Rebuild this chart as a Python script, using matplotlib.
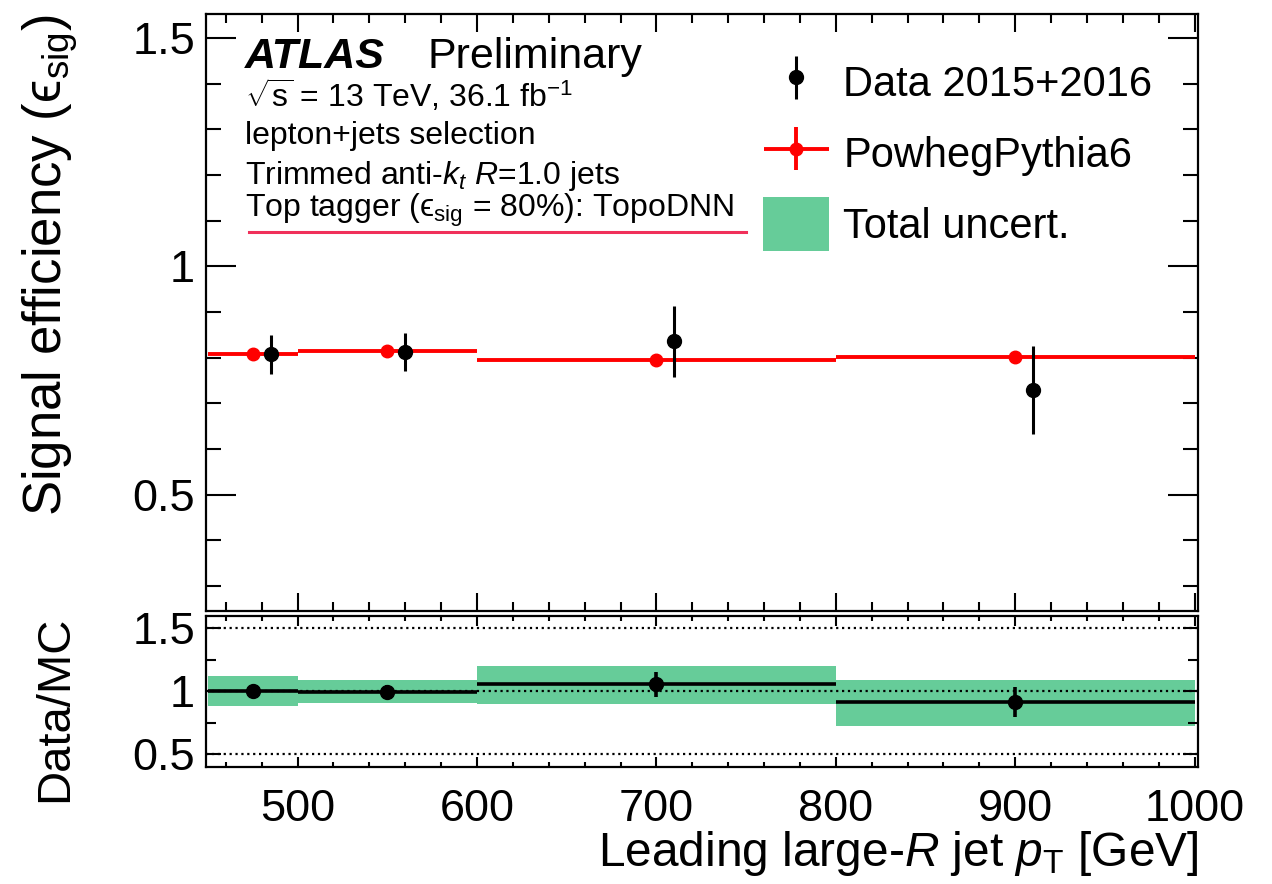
import matplotlib
matplotlib.use("Agg")
import matplotlib.pyplot as plt
import matplotlib.patches as mpatches
from matplotlib.legend_handler import HandlerErrorbar, HandlerPatch
from matplotlib.ticker import MultipleLocator, FuncFormatter
import numpy as np

plt.rcParams["font.family"] = ["Liberation Sans", "DejaVu Sans"]
plt.rcParams["mathtext.fontset"] = "custom"
plt.rcParams["mathtext.rm"] = "Liberation Sans"
plt.rcParams["mathtext.it"] = "Liberation Sans:italic"
plt.rcParams["mathtext.bf"] = "Liberation Sans:bold"

# binning in leading large-R jet pT [GeV]
bin_edges = [450, 500, 600, 800, 1000]
mc_eff = [0.809, 0.815, 0.796, 0.802]
data_eff = [0.807, 0.812, 0.836, 0.729]
data_err = [0.043, 0.041, 0.078, 0.096]
data_shift = 10  # data drawn a bit right of the bin centre
ratio = [0.998, 0.996, 1.055, 0.912]
ratio_err = [0.053, 0.05, 0.10, 0.12]
band_lo = [0.883, 0.908, 0.897, 0.725]
band_hi = [1.118, 1.089, 1.198, 1.087]
ref_lines = [0.5, 1.0, 1.5]

GREEN = "#66cc99"
TICK_FS = 32.5

edges = np.array(bin_edges, dtype=float)
centers = 0.5 * (edges[1:] + edges[:-1])
halfw = 0.5 * (edges[1:] - edges[:-1])


def big_box(legend, orig_handle, xdescent, ydescent, width, height, fontsize):
    # legend box a bit taller than the row, like the ROOT one
    h = height * 1.2
    return mpatches.Rectangle((-xdescent, -ydescent + (height - h) / 2), width, h)


fig = plt.figure(figsize=(12.72, 8.84), dpi=100)
ax = fig.add_axes([0.162, 0.3088, 0.780, 0.6754])
ax2 = fig.add_axes([0.162, 0.1327, 0.780, 0.1708])

# --- main panel
mc_h = ax.errorbar(centers, mc_eff, xerr=halfw, yerr=np.zeros(len(mc_eff)),
                   fmt="o", color="red", ms=9, elinewidth=2.8, capsize=0, zorder=3)
data_h = ax.errorbar(centers + data_shift, data_eff, yerr=data_err,
                     fmt="o", color="black", ms=10, elinewidth=2.2, capsize=0, zorder=4)
band_h = mpatches.Patch(facecolor=GREEN, edgecolor="none")

ax.set_xlim(449, 1002)
ax.set_ylim(0.245, 1.553)
ax.yaxis.set_major_locator(MultipleLocator(0.5))
ax.yaxis.set_minor_locator(MultipleLocator(0.1))
ax.xaxis.set_major_locator(MultipleLocator(100))
ax.xaxis.set_minor_locator(MultipleLocator(20))
ax.yaxis.set_major_formatter(FuncFormatter(lambda v, p: f"{v:g}"))
ax.tick_params(axis="both", which="both", direction="in", top=True, right=True, width=1.5)
ax.tick_params(axis="x", which="major", length=13, labelbottom=False)
ax.tick_params(axis="x", which="minor", length=6.5)
ax.tick_params(axis="y", which="major", length=21.6, labelsize=TICK_FS, pad=8)
ax.tick_params(axis="y", which="minor", length=10.8)
ax.set_ylabel("Signal efficiency (\u03f5$_{\\mathrm{sig}}$)", fontsize=38, loc="top")
ax.yaxis.set_label_coords(-0.127, 1.0)

tr = ax.transAxes
ax.text(0.039, 0.909, "ATLAS", fontsize=31, fontweight="bold", fontstyle="italic",
        transform=tr, va="baseline")
ax.text(0.223, 0.909, "Preliminary", fontsize=31, transform=tr, va="baseline")
ax.text(0.039, 0.844, r"$\sqrt{\mathrm{s}}$ = 13 TeV, 36.1 fb$^{\mathrm{-1}}$", fontsize=23,
        transform=tr, va="baseline")
ax.text(0.039, 0.782, "lepton+jets selection", fontsize=23, transform=tr, va="baseline")
ax.text(0.039, 0.716, r"Trimmed anti-$k_{t}$ $R$=1.0 jets", fontsize=23, transform=tr, va="baseline")
ax.text(0.039, 0.660, "Top tagger (\u03f5$_{\\mathrm{sig}}$ = 80%): TopoDNN", fontsize=23,
        transform=tr, va="baseline")
ax.plot([0.043, 0.544], [0.635, 0.635], transform=tr, color="#f0305a", lw=2.2)

ax.legend([data_h, mc_h, band_h], ["Data 2015+2016", "PowhegPythia6", "Total uncert."],
          handler_map={data_h: HandlerErrorbar(xerr_size=0.5, yerr_size=0.52),
                       mc_h: HandlerErrorbar(xerr_size=0.78, yerr_size=0.52),
                       band_h: HandlerPatch(patch_func=big_box)},
          loc="upper left", bbox_to_anchor=(0.5615, 0.924), frameon=False,
          fontsize=30, handlelength=1.58, handleheight=1.27, handletextpad=0.34,
          labelspacing=0.62, borderpad=0, borderaxespad=0)

# --- ratio panel
ax2.bar(centers, np.array(band_hi) - np.array(band_lo), bottom=band_lo, width=2 * halfw,
        color=GREEN, edgecolor="none", zorder=1)
for r in ref_lines:
    ax2.axhline(r, color="black", ls=":", lw=1.6, zorder=2)
ax2.errorbar(centers, ratio, xerr=halfw, yerr=ratio_err, fmt="o", color="black",
             ms=10, elinewidth=2.6, capsize=0, zorder=3)

ax2.set_xlim(449, 1002)
ax2.set_ylim(0.4, 1.6)
ax2.yaxis.set_major_locator(MultipleLocator(0.5))
ax2.yaxis.set_minor_locator(MultipleLocator(0.25))
ax2.xaxis.set_major_locator(MultipleLocator(100))
ax2.xaxis.set_minor_locator(MultipleLocator(20))
ax2.yaxis.set_major_formatter(FuncFormatter(lambda v, p: f"{v:g}"))
ax2.tick_params(axis="both", which="both", direction="in", top=True, right=True, width=1.5)
ax2.tick_params(axis="x", which="major", length=7, labelsize=TICK_FS, pad=16)
ax2.tick_params(axis="x", which="minor", length=3.6)
ax2.tick_params(axis="y", which="major", length=10.8, labelsize=TICK_FS, pad=8)
ax2.tick_params(axis="y", which="minor", length=7.2)
ax2.set_ylabel("Data/MC", fontsize=34, loc="top")
ax2.yaxis.set_label_coords(-0.13, 1.0)
ax2.set_xlabel(r"Leading large-$R$ jet $p_{\mathrm{T}}$ [GeV]", fontsize=34.5, loc="right")
ax2.xaxis.set_label_coords(1.0, -0.41)

for a in (ax, ax2):
    for s in a.spines.values():
        s.set_linewidth(1.6)

fig.savefig("out.png", dpi=100)
